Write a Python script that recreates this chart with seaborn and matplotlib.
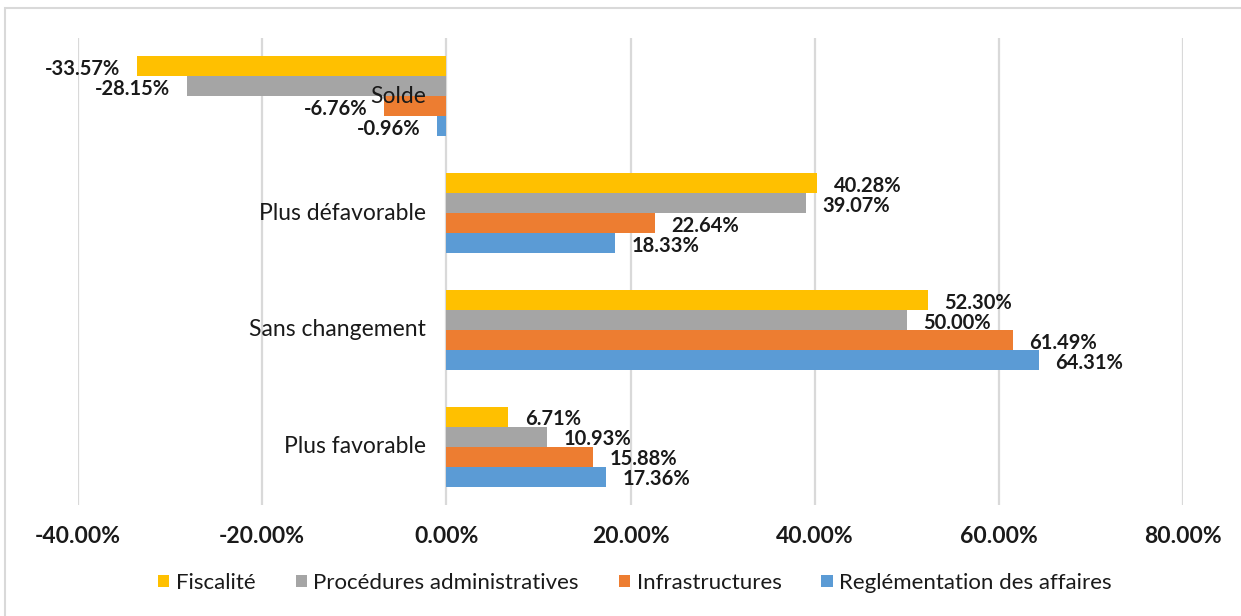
import matplotlib
matplotlib.use('Agg')
import matplotlib.pyplot as plt
import matplotlib.transforms as mtrans
from matplotlib.patches import Rectangle
from matplotlib.ticker import FuncFormatter
import seaborn as sns
import pandas as pd

categories = ['Solde', 'Plus défavorable', 'Sans changement', 'Plus favorable']
series = ['Fiscalité', 'Procédures administratives', 'Infrastructures',
          'Reglémentation des affaires']
fiscalite = [-33.57, 40.28, 52.30, 6.71]
procedures = [-28.15, 39.07, 50.00, 10.93]
infrastructures = [-6.76, 22.64, 61.49, 15.88]
reglementation = [-0.96, 18.33, 64.31, 17.36]
colors = ['#FFC000', '#A5A5A5', '#ED7D31', '#5B9BD5']
x_ticks = [-40, -20, 0, 20, 40, 60, 80]

sns.set_theme(style='white')
plt.rcParams['font.family'] = ['Lato', 'DejaVu Sans']

rows = []
for s, vals in zip(series, [fiscalite, procedures, infrastructures, reglementation]):
    for c, v in zip(categories, vals):
        rows.append({'cat': c, 'series': s, 'value': v})
df = pd.DataFrame(rows)

W, H = 1241, 616
fig = plt.figure(figsize=(W / 100, H / 100), dpi=100)
ax = fig.add_axes([78 / W, 1 - 505 / H, 1105 / W, 467 / H])

sns.barplot(data=df, y='cat', x='value', hue='series', order=categories,
            hue_order=series, palette=colors, saturation=1, width=0.685,
            orient='h', ax=ax, errorbar=None, linewidth=0)

handles, labels = ax.get_legend_handles_labels()
if ax.get_legend() is not None:
    ax.get_legend().remove()

for cont in ax.containers:
    texts = ax.bar_label(cont, fmt='%.2f%%', padding=12, fontsize=14.5,
                         fontweight='bold', color='#1a1a1a')
    for t in texts:
        xo, yo = t.xyann
        t.xyann = (xo, yo - 2)

ax.set_xlim(-40, 80)
ax.set_ylim(3.5, -0.5)
ax.set_xticks(x_ticks)
ax.xaxis.set_major_formatter(FuncFormatter(lambda v, p: f'{v:.2f}%'))
ax.tick_params(axis='x', length=0, pad=15, labelsize=16.5, labelcolor='#1a1a1a')
for t in ax.get_xticklabels():
    t.set_fontweight('bold')
ax.tick_params(axis='y', left=False, labelleft=False)
ax.set_xlabel('')
ax.set_ylabel('')
ax.grid(axis='x', color='#D9D9D9', linewidth=1.6)
ax.set_axisbelow(True)
for sp in ax.spines.values():
    sp.set_visible(False)

lab_tr = mtrans.offset_copy(ax.transData, fig=fig, x=-20, y=0, units='dots')
for i, c in enumerate(categories):
    ax.text(0, i, c, transform=lab_tr, ha='right', va='center', fontsize=16.5,
            color='#1a1a1a', zorder=5)

fig.legend(handles, labels, loc='center', bbox_to_anchor=(635 / W, 1 - 583 / H),
           ncol=4, frameon=False, fontsize=16, handlelength=0.5,
           handleheight=0.5, handletextpad=0.3, columnspacing=1.8,
           labelcolor='#1a1a1a')

fig.patches.append(Rectangle((5 / W, -0.1), 1.2, 1 - 8 / H + 0.1,
                             transform=fig.transFigure, fill=False,
                             edgecolor='#D9D9D9', linewidth=1.5))

fig.savefig('out.png', dpi=100)
